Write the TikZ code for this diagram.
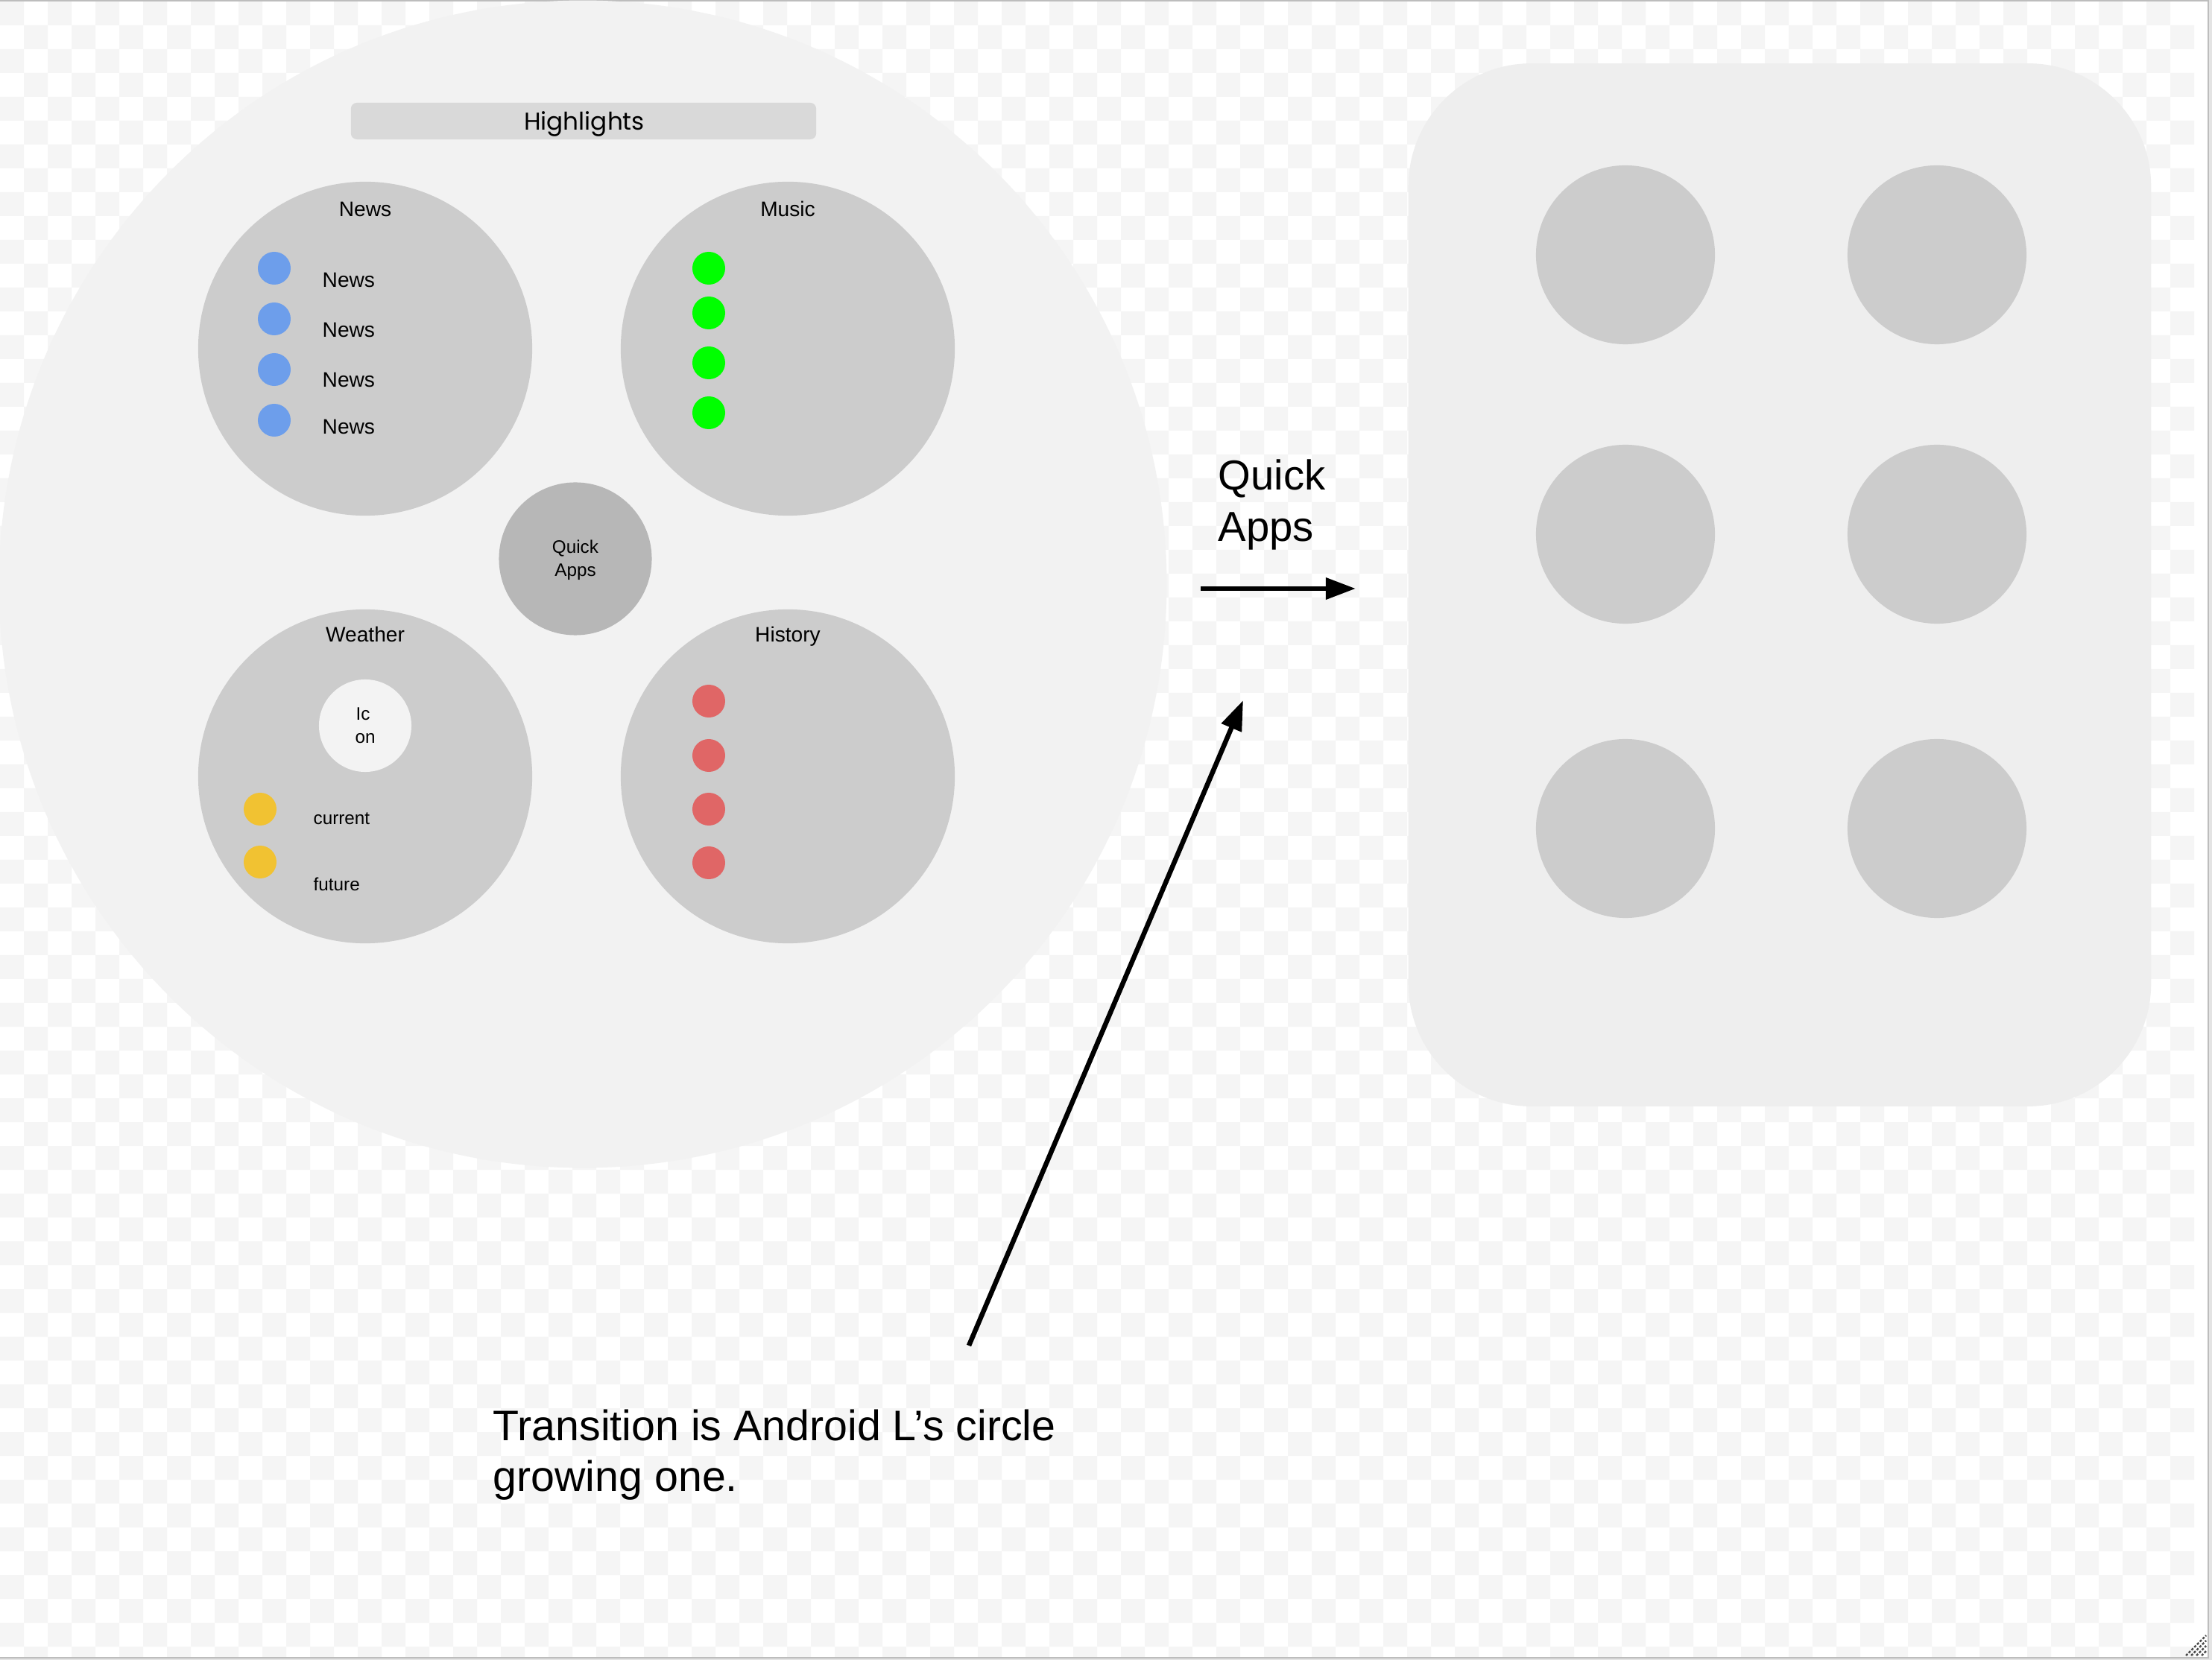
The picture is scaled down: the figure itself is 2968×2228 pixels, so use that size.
\documentclass[tikz,border=0pt]{standalone}
\usepackage{fontspec}
\setmainfont{Liberation Sans}
\newfontfamily\popfont{Poppins}
\usetikzlibrary{arrows.meta}
\definecolor{chk}{HTML}{F5F5F5}
\definecolor{bigc}{HTML}{F2F2F2}
\definecolor{panelc}{HTML}{EEEEEE}
\definecolor{paneg}{HTML}{CCCCCC}
\definecolor{quickc}{HTML}{B7B7B7}
\definecolor{iconc}{HTML}{F3F3F3}
\definecolor{barc}{HTML}{D9D9D9}
\definecolor{bluec}{HTML}{6D9EEB}
\definecolor{greenc}{HTML}{00FF00}
\definecolor{redc}{HTML}{E06666}
\definecolor{yellowc}{HTML}{F1C232}
\definecolor{framec}{HTML}{BDBDBD}
\definecolor{outc}{HTML}{E4E4E4}
\begin{document}
\begin{tikzpicture}[x=0.01cm,y=-0.01cm,
  pane/.style={circle,fill=paneg,draw=none,inner sep=0,minimum size=4.48cm},
  appc/.style={circle,fill=paneg,draw=none,inner sep=0,minimum size=2.40cm},
  dotn/.style={circle,draw=none,inner sep=0,minimum size=0.44cm},
  ttl/.style={anchor=base,inner sep=0,font=\fontsize{8pt}{9pt}\selectfont},
  lbl/.style={anchor=base west,inner sep=0,font=\fontsize{8pt}{9pt}\selectfont},
  sml/.style={anchor=base,inner sep=0,font=\fontsize{6.9pt}{8pt}\selectfont},
  smlw/.style={anchor=base west,inner sep=0,font=\fontsize{6.9pt}{8pt}\selectfont},
  big/.style={anchor=base west,inner sep=0,font=\fontsize{16pt}{19pt}\selectfont},
  bigb/.style={anchor=base west,inner sep=0,font=\fontsize{16.3pt}{19pt}\selectfont},
  conn/.style={line width=1.85pt,-{Triangle[length=11.4pt,width=8pt]}}]
\useasboundingbox (0,0) rectangle (2968,2228);
% outer frame and checker background
\fill[outc] (0,0) rectangle (2968,2228);
\fill[white] (0,2) rectangle (2962,2224);
\begin{scope}
\clip (0,2) rectangle (2944,2224);
\fill[chk] foreach \j in {0,...,69} {
  foreach \i in {0,...,45} {
    ({64*\i+32*mod(\j,2)},{2+32*\j}) rectangle ++(32,32)
  }
};
\end{scope}
\draw[framec,line width=0.6pt] (0,1) -- (2963,1) -- (2963,2225) -- (0,2225);
\foreach \a in {0,7,14,21} {
  \draw[black!70,line width=0.7pt,dash pattern=on 0.9pt off 0.6pt] ({2933+\a},2222) -- (2960,{2195+\a});
}
% big circle
\node[circle,fill=bigc,draw=none,inner sep=0,minimum size=15.66cm] (bigc) at (782,784) {};
% highlights bar
\node[fill=barc,draw=none,rounded corners=0.08cm,inner sep=0,minimum width=6.24cm,minimum height=0.49cm] (bar) at (783,162.5) {};
\node[anchor=base,inner sep=0,font=\popfont\fontsize{9.3pt}{11pt}\selectfont] (hl) at (784,175) {Highlights};
% panes
\node[pane] (news) at (490,468) {};
\node[pane] (music) at (1057,468) {};
\node[pane] (weather) at (490,1042) {};
\node[pane] (history) at (1057,1042) {};
\node[circle,fill=quickc,draw=none,inner sep=0,minimum size=2.05cm] (quick) at (772,750) {};
\node[sml] (q1) at (772,743) {Quick};
\node[sml] (q2) at (772,774) {Apps};
% titles
\node[ttl] (tnews) at (490,291) {News};
\node[ttl] (tmusic) at (1057,291) {Music};
\node[ttl] (tweather) at (490,862) {Weather};
\node[ttl] (thistory) at (1057,862) {History};
% news items
\node[dotn,fill=bluec] (b1) at (368,360) {};
\node[dotn,fill=bluec] (b2) at (368,428) {};
\node[dotn,fill=bluec] (b3) at (368,496) {};
\node[dotn,fill=bluec] (b4) at (368,564) {};
\node[lbl] (n1) at (432,385.5) {News};
\node[lbl] (n2) at (432,453) {News};
\node[lbl] (n3) at (432,519.5) {News};
\node[lbl] (n4) at (432,583) {News};
% music items
\node[dotn,fill=greenc] (g1) at (951,360) {};
\node[dotn,fill=greenc] (g2) at (951,420) {};
\node[dotn,fill=greenc] (g3) at (951,487) {};
\node[dotn,fill=greenc] (g4) at (951,554) {};
% weather
\node[circle,fill=iconc,draw=none,inner sep=0,minimum size=1.24cm] (icon) at (490,974) {};
\node[sml] (ic1) at (487,967) {Ic};
\node[sml] (ic2) at (490,998) {on};
\node[dotn,fill=yellowc] (y1) at (349,1086) {};
\node[dotn,fill=yellowc] (y2) at (349,1157) {};
\node[smlw] (cur) at (420,1107) {current};
\node[smlw] (fut) at (420,1196) {future};
% history
\node[dotn,fill=redc] (r1) at (951,941) {};
\node[dotn,fill=redc] (r2) at (951,1014) {};
\node[dotn,fill=redc] (r3) at (951,1086) {};
\node[dotn,fill=redc] (r4) at (951,1158) {};
% right panel
\node[fill=panelc,draw=none,rounded corners=1.65cm,inner sep=0,minimum width=9.96cm,minimum height=13.99cm] (panel) at (1890+498,85.5+699.5) {};
\node[appc] (a1) at (2181,342) {};
\node[appc] (a2) at (2599,342) {};
\node[appc] (a3) at (2181,717) {};
\node[appc] (a4) at (2599,717) {};
\node[appc] (a5) at (2181,1112) {};
\node[appc] (a6) at (2599,1112) {};
% arrows and labels
\coordinate (s1) at (1611,790);
\coordinate (e1) at (1819,790);
\draw[conn] (s1) -- (e1);
\node[big] (qa1) at (1634,658) {Quick};
\node[big] (qa2) at (1634,727) {Apps};
\coordinate (s2) at (1300,1806);
\coordinate (e2) at (1668,940);
\draw[conn] (s2) -- (e2);
\node[bigb] (t1) at (661,1933) {Transition is Android L’s circle};
\node[bigb] (t2) at (661,2001) {growing one.};
\end{tikzpicture}
\end{document}
